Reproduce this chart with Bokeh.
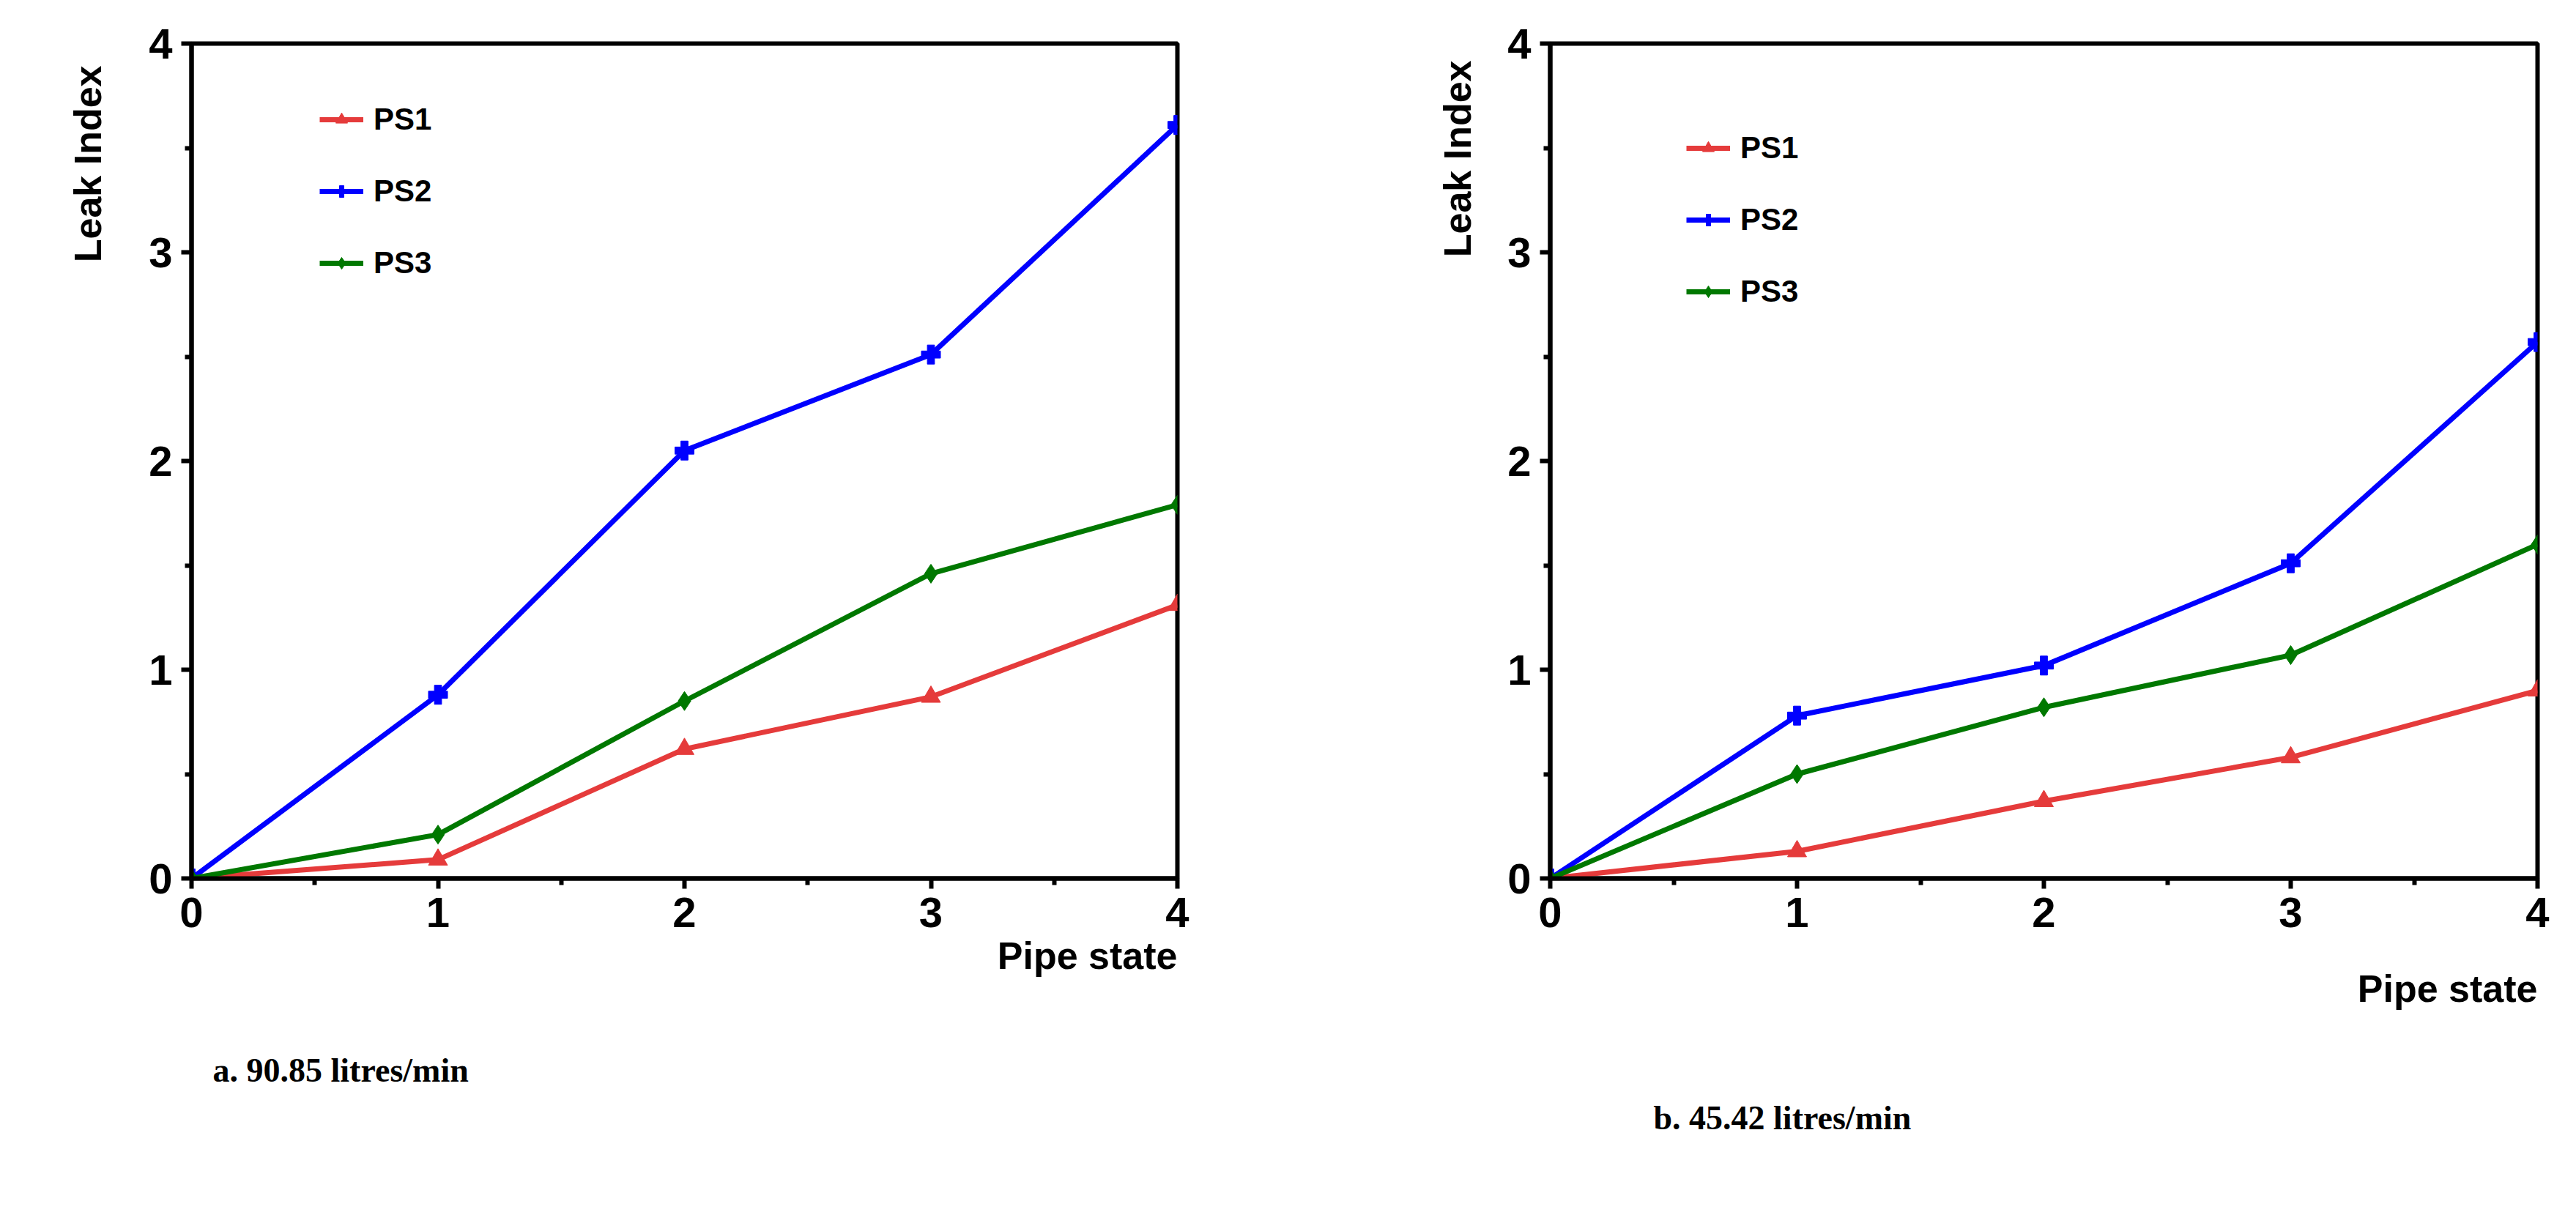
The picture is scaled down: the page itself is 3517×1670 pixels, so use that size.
from bokeh.plotting import figure
from bokeh.layouts import row
from bokeh.models import Range1d, Legend, LegendItem, FixedTicker, Title
from bokeh.embed import file_html
from bokeh.resources import INLINE

pipe_state = [0, 1, 2, 3, 4]
a_ps1 = [0, 0.09, 0.62, 0.87, 1.31]
a_ps2 = [0, 0.88, 2.05, 2.51, 3.61]
a_ps3 = [0, 0.21, 0.85, 1.46, 1.79]
b_ps1 = [0, 0.13, 0.37, 0.58, 0.90]
b_ps2 = [0, 0.78, 1.02, 1.51, 2.57]
b_ps3 = [0, 0.50, 0.82, 1.07, 1.60]
series_names = ["PS1", "PS2", "PS3"]
colors = ["#e53b3b", "#0000ff", "#007800"]
markers = ["triangle", "plus", "diamond"]
ticks = [0, 1, 2, 3, 4]

FONT = "Liberation Sans"

def make(data, bl, br, bt, bb, leg_loc, ylab, xlab, cap):
    p = figure(width=1750, height=1654, output_backend="svg", toolbar_location=None,
               x_range=Range1d(0, 4), y_range=Range1d(0, 4),
               min_border_left=bl, min_border_right=br, min_border_top=bt, min_border_bottom=bb)
    p.grid.visible = False
    p.outline_line_color = "black"
    p.outline_line_width = 6
    p.outline_line_alpha = 1
    for ax in (p.xaxis[0], p.yaxis[0]):
        ax.ticker = FixedTicker(ticks=ticks, minor_ticks=[0.5, 1.5, 2.5, 3.5])
        ax.axis_line_width = 6
        ax.major_tick_line_width = 6
        ax.minor_tick_line_width = 6
        ax.major_tick_out = 14
        ax.major_tick_in = 0
        ax.minor_tick_out = 9
        ax.minor_tick_in = 0
        ax.major_label_text_font = FONT
        ax.major_label_text_font_size = "58px"
        ax.major_label_text_font_style = "bold"
        ax.major_label_text_color = "black"
        ax.major_label_standoff = 12
    items = []
    for vals, name, c, m in zip(data, series_names, colors, markers):
        l = p.line(pipe_state, vals, line_color=c, line_width=7)
        s = p.scatter(pipe_state, vals, marker=m, size=26, fill_color=c, line_color=c)
        items.append(LegendItem(label=name, renderers=[l, s]))
    leg = Legend(items=items, location=leg_loc, padding=0, spacing=50, glyph_width=60,
                 glyph_height=40, label_height=40, label_text_font=FONT,
                 label_text_font_size="42px", label_text_font_style="bold",
                 label_text_color="black",
                 border_line_alpha=0, background_fill_alpha=0, label_standoff=14)
    p.add_layout(leg, "center")
    p.add_layout(Title(text="Leak Index", align="right", offset=ylab[0], standoff=ylab[1],
                       text_font=FONT, text_font_size="52px", text_font_style="bold",
                       text_color="black"), "left")
    p.add_layout(Title(text="Pipe state", align="right", offset=0, standoff=xlab,
                       text_font=FONT, text_font_size="52px", text_font_style="bold",
                       text_color="black"), "below")
    p.add_layout(Title(text=cap[2], align="left", offset=cap[0], standoff=cap[1],
                       text_font="Liberation Serif", text_font_size="46px",
                       text_font_style="bold", text_color="black"), "below")
    return p

p1 = make([a_ps1, a_ps2, a_ps3], 261, 143, 40, 433, (175, 816),
          (30, 104), 10, (29, 190, "a. 90.85 litres/min"))
p2 = make([b_ps1, b_ps2, b_ps3], 366, 36, 59, 455, (186, 777),
          (23, 74), 100, (141, 140, "b. 45.42 litres/min"))

page = row(p1, p2)
open("out.html", "w").write(file_html(page, INLINE))
